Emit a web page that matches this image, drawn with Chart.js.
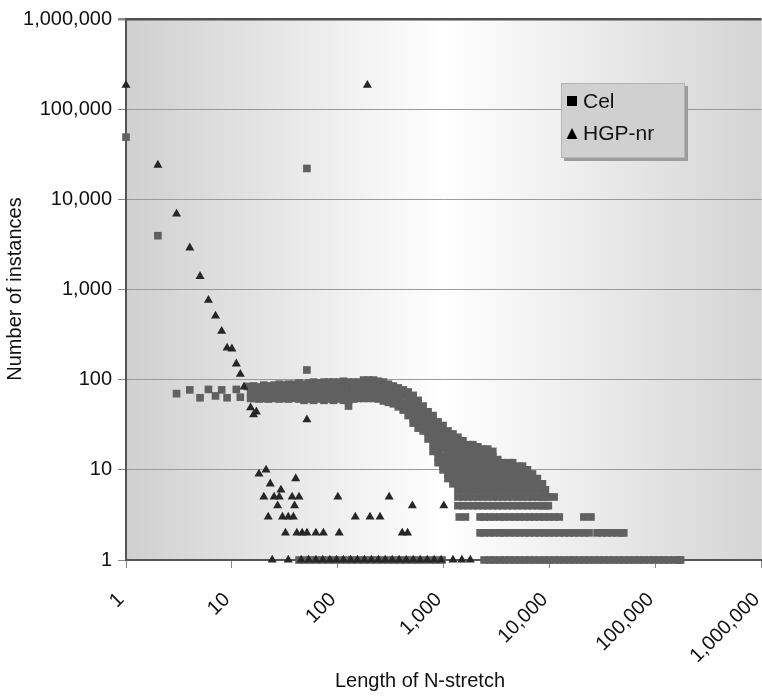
<!DOCTYPE html>
<html>
<head>
<meta charset="utf-8">
<script src="https://cdn.jsdelivr.net/npm/chart.js@4.4.1/dist/chart.umd.min.js"></script>
<style>
  html, body { margin: 0; padding: 0; background: #fff; overflow: hidden; }
  #wrap { position: relative; width: 767px; height: 696px; }
</style>
</head>
<body>
<div id="wrap"><canvas id="chart"></canvas></div>
<script>
'use strict';
// decade ticks on both axes
const decades = [1, 10, 100, 1000, 10000, 100000, 1000000];

// Cel - isolated points
const celX = [1, 2, 3, 4, 5, 6, 7, 8, 9, 11, 12, 14, 51, 51];
const celY = [49000, 3950, 70, 77, 63, 78, 66, 77, 63, 78, 64, 84, 22000, 128];

// Cel - dense band, counts read column by column
const celBandX = [15, 16, 18, 20, 22, 25, 28, 31, 34, 38, 43, 48, 53, 59, 66, 74, 82, 91,
  102, 113, 126, 141, 157, 175, 194, 217, 241, 269, 300, 334, 372, 414, 461, 514, 573, 638,
  711, 792, 883, 984, 1095, 1220, 1360, 1515, 1690, 1880, 2095, 2335, 2600, 2900, 3225,
  3590, 4000, 4460, 4970, 5530, 6165, 6870, 7650, 8530, 9100, 9700];
const celBandY = [
  [83, 72, 62], [85, 73, 62], [83, 71, 61], [87, 74, 62], [85, 72, 61], [87, 74, 62],
  [89, 78, 68, 61], [87, 74, 62], [89, 78, 68, 61], [89, 78, 68, 62], [92, 80, 69, 61],
  [89, 77, 67, 59], [92, 80, 69, 61], [94, 81, 69, 59], [92, 80, 69, 61], [94, 81, 69, 59],
  [94, 81, 70, 61], [94, 81, 69, 59],
  [94, 81, 70, 61], [96, 83, 70, 59], [94, 81, 69, 59, 51], [94, 81, 70, 61], [94, 81, 71, 62],
  [99, 85, 73, 62], [99, 85, 73, 62], [99, 85, 73, 62], [96, 83, 71, 61], [94, 81, 68, 58],
  [89, 77, 66, 56], [85, 73, 62, 54], [81, 68, 59, 50], [77, 66, 55, 46], [73, 62, 54, 47, 40],
  [67, 58, 50, 43, 37, 33], [59, 51, 44, 38, 33, 29], [51, 44, 37, 32, 27],
  [44, 38, 33, 29, 26, 22], [40, 35, 30, 26, 22, 19, 16], [34, 29, 25, 21, 18, 16, 14, 12],
  [31, 26, 22, 19, 17, 14, 12, 11, 10], [27, 23, 20, 17, 15, 13, 11, 10, 9, 8],
  [25, 21, 18, 16, 14, 12, 11, 10, 9, 8, 7], [23, 20, 17, 15, 13, 12, 11, 10, 9, 8, 7, 6, 5, 4],
  [21, 18, 16, 14, 12, 11, 10, 9, 8, 7, 6, 5, 4], [19, 17, 15, 13, 12, 11, 10, 9, 8, 7, 6, 5, 4],
  [19, 16, 14, 12, 11, 10, 9, 8, 7, 6, 5, 4], [18, 16, 14, 12, 11, 10, 9, 8, 7, 6, 5, 4],
  [17, 15, 13, 12, 11, 10, 9, 8, 7, 6, 5, 4], [17, 15, 13, 11, 10, 9, 8, 7, 6, 5, 4],
  [16, 14, 12, 11, 10, 9, 8, 7, 6, 5, 4], [13, 12, 11, 10, 9, 8, 7, 6, 5, 4],
  [12, 11, 10, 9, 8, 7, 6, 5, 4], [12, 11, 10, 9, 8, 7, 6, 5, 4], [12, 11, 10, 9, 8, 7, 6, 5, 4],
  [11, 10, 9, 8, 7, 6, 5, 4], [11, 10, 9, 8, 7, 6, 5, 4], [10, 9, 8, 7, 6, 5, 4],
  [9, 8, 7, 6, 5, 4], [8, 7, 6, 5, 4], [7, 6, 5, 4], [6, 5, 4], [5, 4]
];
const celLoneX = [11000];
const celLoneY = [5];

// Cel - flat rows at counts 3, 2 and 1
const celRow3X = [1400, 1600, 2200, 2400, 2700, 3000, 3400, 3700, 4200, 4700, 5200, 5800,
  6400, 7200, 8000, 8900, 9900, 11000, 12300, 21000, 24500];
const celRow2X = [2200, 2400, 2700, 3000, 3400, 3700, 4200, 4700, 5200, 5800, 6400, 7200,
  8000, 8900, 9900, 11000, 12300, 13700, 15300, 17000, 19000, 21100, 23500, 28000, 31200,
  34700, 38700, 43000, 48000, 50000];
const celRow1X = [43, 48, 55, 63, 72, 82, 93, 106, 121, 137, 157, 178, 203, 231, 263, 300,
  341, 388, 442, 503, 573, 652, 742, 845, 962,
  2400, 2700, 3000, 3400, 3750, 4200, 4650, 5200, 5800, 6400, 7200, 8000, 8900, 9900, 11000,
  12300, 13700, 15300, 17000, 19000, 21100, 23500, 26200, 29200, 32600, 36300, 40400, 45000,
  50200, 55900, 62300, 69400, 77300, 86100, 96000, 107000, 119000, 133000, 148000, 165000, 172000];

// HGP-nr
const hgpX = [1, 2, 3, 4, 5, 6, 7, 8, 9, 10, 11, 12, 13, 15, 16, 17, 51, 190,
  21, 18, 40, 23, 29,
  20, 25, 28, 37, 43, 100, 305,
  27, 39, 505, 1000,
  22, 30, 34, 38, 146, 201, 250,
  32, 41, 46, 51, 62, 73, 103, 405, 455];
const hgpY = [185000, 24000, 6900, 2900, 1400, 760, 510, 345, 225, 220, 150, 115, 83, 49, 41, 44, 36, 185000,
  10, 9, 8, 7, 6,
  5, 5, 5, 5, 5, 5, 5,
  4, 4, 4, 4,
  3, 3, 3, 3, 3, 3, 3,
  2, 2, 2, 2, 2, 2, 2, 2, 2];
const hgpRow1X = [24, 34, 45, 53, 62, 72, 84, 97, 113, 132, 153, 178, 207, 241, 280, 326,
  379, 442, 514, 598, 697, 811, 943, 1220, 1480, 1780];

const seriesNames = ['Cel', 'HGP-nr'];

// build point lists
const celPoints = celX.map((x, i) => ({x: x, y: celY[i]}));
celBandX.forEach((x, i) => celBandY[i].forEach(y => celPoints.push({x: x, y: y})));
celLoneX.forEach((x, i) => celPoints.push({x: x, y: celLoneY[i]}));
celRow3X.forEach(x => celPoints.push({x: x, y: 3}));
celRow2X.forEach(x => celPoints.push({x: x, y: 2}));
celRow1X.forEach(x => celPoints.push({x: x, y: 1}));

const hgpPoints = hgpX.map((x, i) => ({x: x, y: hgpY[i]}));
hgpRow1X.forEach(x => hgpPoints.push({x: x, y: 1}));

const FONT = "'Liberation Sans', Arial, sans-serif";
const fmt = v => Number(v).toLocaleString('en-US');

const frame = {
  id: 'frame',
  beforeDraw(chart) {
    const {ctx, chartArea: a} = chart;
    const g = ctx.createLinearGradient(a.left, 0, a.right, 0);
    g.addColorStop(0, '#d0d0d0');
    g.addColorStop(0.5, '#ffffff');
    g.addColorStop(1, '#d4d4d4');
    ctx.save();
    ctx.fillStyle = g;
    ctx.fillRect(a.left, a.top, a.right - a.left, a.bottom - a.top);
    ctx.restore();
  },
  afterDraw(chart) {
    const ctx = chart.ctx;
    ctx.save();
    // legend box
    ctx.fillStyle = '#9c9c9c';
    ctx.fillRect(564, 86, 124, 75);
    ctx.fillStyle = '#d0d0d0';
    ctx.fillRect(561, 83, 124, 75);
    ctx.strokeStyle = '#b4b4b4';
    ctx.lineWidth = 1;
    ctx.strokeRect(561.5, 83.5, 123, 74);
    ctx.fillStyle = '#000';
    ctx.fillRect(567, 96, 10, 10);
    ctx.beginPath();
    ctx.moveTo(572, 128);
    ctx.lineTo(577.5, 139);
    ctx.lineTo(566.5, 139);
    ctx.closePath();
    ctx.fill();
    ctx.font = '21px ' + FONT;
    ctx.textBaseline = 'middle';
    ctx.textAlign = 'left';
    ctx.fillStyle = '#111';
    ctx.fillText(seriesNames[0], 583, 102);
    ctx.fillText(seriesNames[1], 583, 134);
    // axis titles
    ctx.font = '20px ' + FONT;
    ctx.textAlign = 'center';
    ctx.fillText('Length of N-stretch', 420, 681);
    ctx.translate(15, 289);
    ctx.rotate(-Math.PI / 2);
    ctx.fillText('Number of instances', 0, 0);
    ctx.restore();
  }
};

new Chart(document.getElementById('chart'), {
  type: 'scatter',
  data: {
    datasets: [
      {
        label: seriesNames[1],
        data: hgpPoints,
        pointStyle: 'triangle',
        pointRadius: 5.2,
        backgroundColor: '#262626',
        borderColor: '#262626',
        borderWidth: 0,
        clip: false,
        order: 1
      },
      {
        label: seriesNames[0],
        data: celPoints,
        pointStyle: 'rect',
        pointRadius: 5.4,
        backgroundColor: '#606060',
        borderColor: '#606060',
        borderWidth: 0,
        clip: false,
        order: 2
      }
    ]
  },
  options: {
    responsive: true,
    maintainAspectRatio: false,
    animation: false,
    events: [],
    layout: {padding: {top: 19, left: 0, right: 0, bottom: 0}},
    plugins: {
      legend: {display: false},
      tooltip: {enabled: false}
    },
    scales: {
      x: {
        type: 'logarithmic',
        position: 'bottom',
        min: 1,
        max: 1000000,
        afterBuildTicks: s => { s.ticks = decades.map(v => ({value: v})); },
        afterFit: s => { s.height = 136; s.paddingLeft = 0; s.paddingRight = 0; },
        grid: {drawOnChartArea: false, drawTicks: true, tickLength: 8, color: '#888', tickColor: '#888'},
        border: {display: true, color: '#555', width: 2},
        ticks: {
          autoSkip: false, minRotation: 45, maxRotation: 45, padding: 20, labelOffset: -5,
          color: '#111', font: {family: FONT, size: 20},
          callback: v => fmt(v)
        }
      },
      y: {
        type: 'logarithmic',
        min: 1,
        max: 1000000,
        afterBuildTicks: s => { s.ticks = decades.map(v => ({value: v})); },
        afterFit: s => { s.width = 126; },
        grid: {
          drawTicks: true, tickLength: 8, tickColor: '#888',
          color: c => c.tick.value === 1 ? 'rgba(0,0,0,0)' : (c.tick.value === 1000000 ? '#505050' : '#9a9a9a'),
          lineWidth: c => c.tick.value === 1000000 ? 2.5 : 1
        },
        border: {display: true, color: '#555', width: 2},
        ticks: {
          padding: 6,
          color: '#111', font: {family: FONT, size: 20},
          callback: v => fmt(v)
        }
      }
    }
  },
  plugins: [frame]
});
</script>
</body>
</html>
